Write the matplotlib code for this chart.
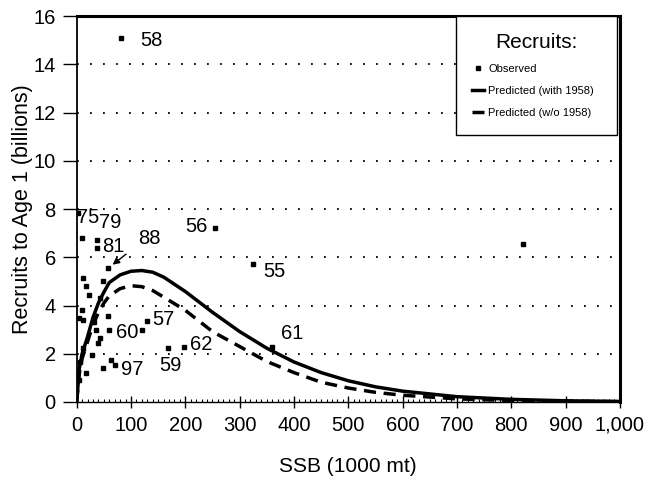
import numpy as np
import matplotlib
matplotlib.use("Agg")
import matplotlib.pyplot as plt
from matplotlib.ticker import FuncFormatter, MultipleLocator

plt.rcParams["font.family"] = ["Liberation Sans", "DejaVu Sans"]

# ---------------------------------------------------------------------------
# Data
# ---------------------------------------------------------------------------
# observed SSB (1000 mt) and recruits to age 1 (billions)
obs_ssb = [82, 255, 325, 57, 37, 37, 10, 11, 18, 22, 48, 43, 9, 58, 12, 31,
           35, 43, 40, 12, 28, 6, 18, 5, 60, 121, 130, 49, 64, 71, 168, 198,
           359, 822, 2, 4]
obs_rec = [15.1, 7.22, 5.73, 5.55, 6.72, 6.39, 6.8, 5.15, 4.8, 4.45, 5.0, 4.3,
           3.8, 3.57, 3.4, 3.33, 3.0, 2.65, 2.45, 2.23, 1.95, 1.67, 1.2, 0.9,
           3.0, 3.0, 3.36, 1.42, 1.74, 1.54, 2.24, 2.28, 2.3, 6.56, 7.85, 3.5]

# year labels and where they sit
year_labels = ["58", "75", "79", "81", "88", "56", "55", "57", "60", "62",
               "59", "97", "61"]
label_x = [137, 21, 61, 68, 133, 220, 364, 160, 93, 229, 172, 102, 397]
label_y = [14.97, 7.63, 7.45, 6.45, 6.76, 7.26, 5.39, 3.4, 2.9, 2.37, 1.53,
           1.33, 2.82]

# predicted curves
curve_ssb = [0, 5, 10, 20, 30, 40, 50, 60, 80, 100, 120, 140, 160, 200, 250,
             300, 350, 400, 450, 500, 550, 600, 700, 800, 900, 1000]
pred_with = [0, 1.4, 2.0, 2.7, 3.5, 4.1, 4.55, 4.95, 5.27, 5.42, 5.45, 5.38,
             5.18, 4.58, 3.72, 2.92, 2.23, 1.66, 1.22, 0.88, 0.63, 0.45, 0.22,
             0.11, 0.05, 0.024]
pred_wo = [0, 1.2, 1.8, 2.5, 3.2, 3.7, 4.1, 4.4, 4.7, 4.82, 4.78, 4.62, 4.35,
           3.8, 2.92, 2.3, 1.68, 1.22, 0.82, 0.58, 0.4, 0.28, 0.13, 0.06,
           0.03, 0.01]

# ---------------------------------------------------------------------------
# Figure
# ---------------------------------------------------------------------------
fig = plt.figure(figsize=(6.47, 4.78), dpi=100)
ax = fig.add_axes([0.1185, 0.159, 0.8395, 0.8075])

ax.set_xlim(0, 1000)
ax.set_ylim(0, 16)

# dotted horizontal grid
for yv in range(2, 16, 2):
    ax.axhline(yv, color="black", lw=1.3, ls=(0, (1, 6.2)), zorder=1)

ax.plot(obs_ssb, obs_rec, "s", color="black", markersize=3.2, ls="none",
        label="Observed", zorder=4)
ax.plot(curve_ssb, pred_with, "-", color="black", lw=2.5,
        label="Predicted (with 1958)", zorder=3)
ax.plot(curve_ssb, pred_wo, color="black", lw=2.5, ls=(0, (3.5, 2.2)),
        label="Predicted (w/o 1958)", zorder=3)

for txt, lx, ly in zip(year_labels, label_x, label_y):
    ax.text(lx, ly, txt, fontsize=14.5, ha="center", va="center", zorder=5)

# arrow pointing at the 1988 point
ax.annotate("", xy=(62, 5.62), xytext=(95, 6.2),
            arrowprops=dict(arrowstyle="-|>", color="black", lw=1.0,
                            mutation_scale=10))

# axes styling
for side in ["top", "right"]:
    ax.spines[side].set_linewidth(2.2)
ax.spines["left"].set_linewidth(1.3)
ax.spines["bottom"].set_linewidth(1.0)

ax.xaxis.set_major_locator(MultipleLocator(100))
ax.xaxis.set_minor_locator(MultipleLocator(10))
ax.yaxis.set_major_locator(MultipleLocator(2))
ax.xaxis.set_major_formatter(FuncFormatter(lambda v, p: f"{v:,.0f}"))

ax.tick_params(axis="x", which="major", direction="inout", length=8,
               width=1.0, pad=6, labelsize=14.5)
ax.tick_params(axis="x", which="minor", direction="in", length=2.5,
               width=0.8)
ax.tick_params(axis="y", which="major", direction="out", length=10,
               width=1.0, pad=5, labelsize=14.5)

ax.set_xlabel("SSB (1000 mt)", fontsize=15)
ax.set_ylabel("Recruits to Age 1 (billions)", fontsize=15.5)
ax.xaxis.set_label_coords(0.5, -0.1425)
ax.yaxis.set_label_coords(-0.08, 0.5)

leg = ax.legend(loc="upper right", bbox_to_anchor=(0.698, 0, 0.296, 1.0),
                mode="expand", borderaxespad=0, fancybox=False,
                edgecolor="black", framealpha=1, title="Recruits:",
                title_fontsize=15, fontsize=8, labelspacing=1.1,
                borderpad=1.5, handlelength=1.0, handletextpad=0.4,
                markerscale=0.8)
leg.get_frame().set_linewidth(1.0)
leg.set_zorder(6)

fig.savefig("out.png", dpi=100, facecolor="white")
